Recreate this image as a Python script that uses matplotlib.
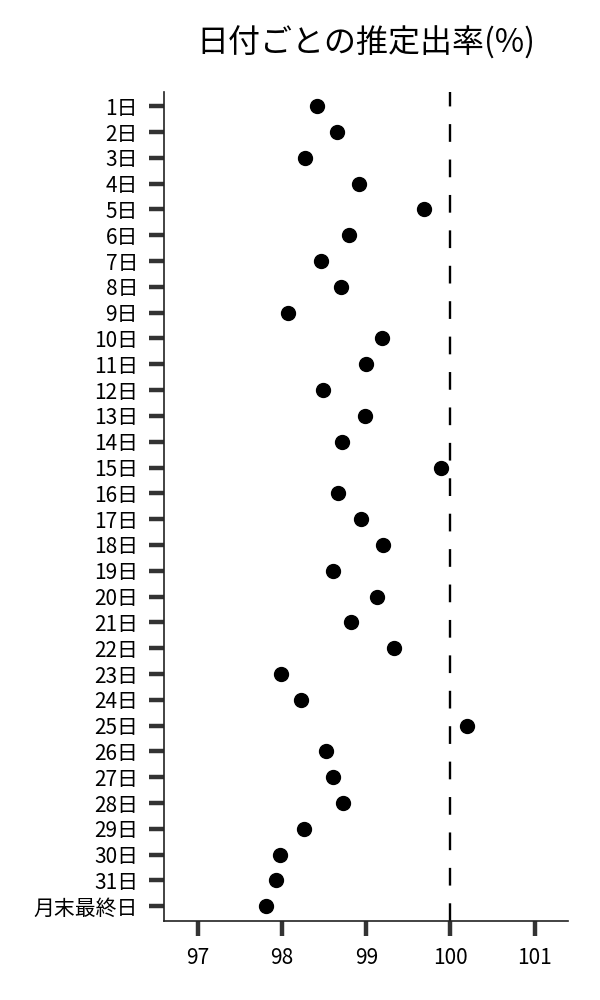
import matplotlib
matplotlib.use("Agg")
import matplotlib.pyplot as plt

plt.rcParams['font.family'] = ['Noto Sans CJK JP', 'DejaVu Sans']

# 日付ラベル
days = [f"{i}日" for i in range(1, 32)] + ["月末最終日"]
# 推定出率(%)
rates = [98.41, 98.65, 98.27, 98.91, 99.68, 98.80, 98.46, 98.70, 98.07, 99.19,
         99.00, 98.48, 98.99, 98.71, 99.89, 98.66, 98.94, 99.20, 98.60, 99.13,
         98.82, 99.33, 97.99, 98.22, 100.20, 98.52, 98.60, 98.72, 98.26, 97.98,
         97.93, 97.81]
ref_value = 100
xticks = [97, 98, 99, 100, 101]

fig = plt.figure(figsize=(6, 10), dpi=100)
ax = fig.add_axes([0.274, 0.079, 0.673, 0.829])

pos = list(range(len(days)))
ax.plot(rates, pos, 'o', color='black', markersize=10, zorder=3)
ax.axvline(ref_value, color='black', lw=1.7, dashes=(7.5, 7.5), zorder=2)

ax.set_yticks(pos)
ax.set_yticklabels(days)
ax.set_ylim(len(days) - 0.43, -0.55)
ax.set_xticks(xticks)
ax.set_xticklabels([str(x) for x in xticks])
ax.set_xlim(96.6, 101.4)

for side in ['top', 'right']:
    ax.spines[side].set_visible(False)
for side in ['left', 'bottom']:
    ax.spines[side].set_color('#222222')
    ax.spines[side].set_linewidth(1.2)

ax.tick_params(axis='both', length=11, width=3.2, color='#333333',
               labelsize=15, pad=8)

ax.set_title('日付ごとの推定出率(%)', fontsize=23, pad=28)

fig.savefig('out.png', dpi=100)
